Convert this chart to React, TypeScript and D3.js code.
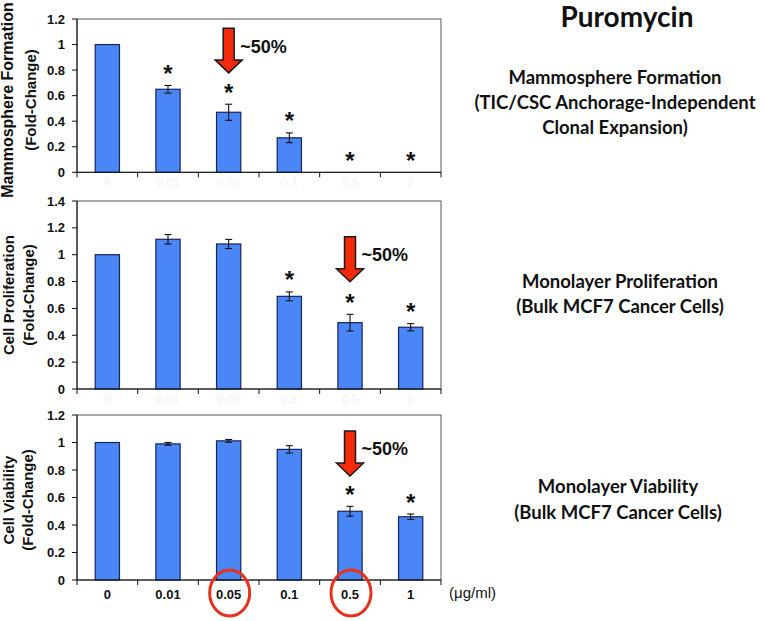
import React from "react";
import * as d3 from "d3";

const categories = ["0", "0.01", "0.05", "0.1", "0.5", "1"];

const mammoValues = [1, 0.65, 0.47, 0.27, 0, 0];
const mammoErrors = [0, 0.03, 0.063, 0.038, 0, 0];
const mammoStars = [false, true, true, true, true, true];

const prolifValues = [1.0, 1.115, 1.08, 0.69, 0.494, 0.46];
const prolifErrors = [0, 0.035, 0.034, 0.033, 0.062, 0.027];
const prolifStars = [false, false, false, true, true, true];

const viabValues = [1.0, 0.99, 1.012, 0.95, 0.5, 0.46];
const viabErrors = [0, 0.01, 0.01, 0.027, 0.036, 0.02];
const viabStars = [false, false, false, false, true, true];

const yLabels1 = ["Mammosphere Formation", "(Fold-Change)"];
const yLabels2 = ["Cell Proliferation", "(Fold-Change)"];
const yLabels3 = ["Cell Viability", "(Fold-Change)"];

const titles1 = ["Mammosphere Formation", "(TIC/CSC Anchorage-Independent", "Clonal Expansion)"];
const titles2 = ["Monolayer Proliferation", "(Bulk MCF7 Cancer Cells)"];
const titles3 = ["Monolayer Viability", "(Bulk MCF7 Cancer Cells)"];

const circledCats = ["0.05", "0.5"];
const unitLabel = "(\u03bcg/ml)";
const mainTitle = "Puromycin";
const arrowText = "~50%";

// layout
const LEFT = 77;
const RIGHT = 441;
const AXIS_FONT = "'Liberation Sans', Arial, sans-serif";
const TITLE_FONT = "Lato, 'Open Sans', sans-serif";
const BAR_FILL = "#4a86f5";
const BAR_STROKE = "#15265a";

const panels = [
  {
    top: 19, bottom: 172.3, ymax: 1.2,
    values: mammoValues, errors: mammoErrors, stars: mammoStars,
    arrow: { cat: "0.05", top: 1.127, tip: 0.778 },
    ylab: yLabels1, ylabX: [7, 30], ylabY: 100, ylabSize: [16, 15],
    titles: titles1, titleX: 615, titleY: [84, 109, 134],
    ghost: true, showX: false,
  },
  {
    top: 201, bottom: 389, ymax: 1.4,
    values: prolifValues, errors: prolifErrors, stars: prolifStars,
    arrow: { cat: "0.5", top: 1.134, tip: 0.799 },
    ylab: yLabels2, ylabX: [8, 28], ylabY: 295, ylabSize: [15, 15],
    titles: titles2, titleX: 620, titleY: [288, 313],
    ghost: true, showX: false,
  },
  {
    top: 415, bottom: 580, ymax: 1.2,
    values: viabValues, errors: viabErrors, stars: viabStars,
    arrow: { cat: "0.5", top: 1.083, tip: 0.756 },
    ylab: yLabels3, ylabX: [8, 27], ylabY: 500, ylabSize: [15, 15],
    titles: titles3, titleX: 618, titleY: [493, 519],
    ghost: false, showX: true,
  },
];

const fmt = (d: number) => String(+d.toFixed(1));

function Panel({ p }: { p: any }) {
  const x = d3.scaleBand<string>().domain(categories).range([LEFT, RIGHT]).paddingInner(0.6).paddingOuter(0.3);
  const y = d3.scaleLinear().domain([0, p.ymax]).range([p.bottom, p.top]);
  const step = x.step();
  const bw = x.bandwidth();
  const yticks = d3.range(0, p.ymax + 1e-9, 0.2);
  const boundaries = d3.range(0, categories.length + 1).map((i) => LEFT + i * step);
  const cx = (c: string) => (x(c) as number) + bw / 2;

  const ac = cx(p.arrow.cat);
  const aTop = y(p.arrow.top);
  const aTip = y(p.arrow.tip);
  const headH = 13;
  const shaftW = 5.5;
  const headW = 13.5;
  const arrowPath = d3.path();
  arrowPath.moveTo(ac - shaftW, aTop);
  arrowPath.lineTo(ac + shaftW, aTop);
  arrowPath.lineTo(ac + shaftW, aTip - headH);
  arrowPath.lineTo(ac + headW, aTip - headH);
  arrowPath.lineTo(ac, aTip);
  arrowPath.lineTo(ac - headW, aTip - headH);
  arrowPath.lineTo(ac - shaftW, aTip - headH);
  arrowPath.closePath();

  return (
    <g>
      <rect x={LEFT} y={p.top} width={RIGHT - LEFT} height={p.bottom - p.top} fill="none" stroke="#555" strokeWidth={1} />
      {categories.map((c, i) =>
        p.values[i] > 0 ? (
          <rect key={"b" + c} x={x(c)} y={y(p.values[i])} width={bw} height={p.bottom - y(p.values[i])}
            fill={BAR_FILL} stroke={BAR_STROKE} strokeWidth={1.2} />
        ) : null
      )}
      {categories.map((c, i) =>
        p.errors[i] > 0 ? (
          <g key={"e" + c} stroke="#111" strokeWidth={1.1}>
            <line x1={cx(c)} x2={cx(c)} y1={y(p.values[i] + p.errors[i])} y2={y(p.values[i] - p.errors[i])} />
            <line x1={cx(c) - 3.5} x2={cx(c) + 3.5} y1={y(p.values[i] + p.errors[i])} y2={y(p.values[i] + p.errors[i])} />
            <line x1={cx(c) - 3.5} x2={cx(c) + 3.5} y1={y(p.values[i] - p.errors[i])} y2={y(p.values[i] - p.errors[i])} />
          </g>
        ) : null
      )}
      {categories.map((c, i) =>
        p.stars[i] ? (
          <text key={"s" + c} x={cx(c)} y={y(p.values[i] + p.errors[i]) - 17 + 13.5} textAnchor="middle"
            fontFamily={AXIS_FONT} fontWeight="bold" fontSize={24} fill="#111">*</text>
        ) : null
      )}
      <line x1={LEFT} x2={LEFT} y1={p.top} y2={p.bottom} stroke="#111" strokeWidth={1} />
      <line x1={LEFT} x2={RIGHT} y1={p.bottom} y2={p.bottom} stroke="#111" strokeWidth={1} />
      {yticks.map((t) => (
        <g key={"yt" + t}>
          <line x1={LEFT - 5} x2={LEFT} y1={y(t)} y2={y(t)} stroke="#111" />
          <text x={LEFT - 12} y={y(t)} dy="0.35em" textAnchor="end" fontFamily={AXIS_FONT} fontWeight="bold" fontSize={13} fill="#111">{fmt(t)}</text>
        </g>
      ))}
      {boundaries.map((bx, i) => (
        <line key={"xt" + i} x1={bx} x2={bx} y1={p.bottom} y2={p.bottom + 5} stroke="#111" />
      ))}
      {p.showX &&
        categories.map((c) => (
          <text key={"xl" + c} x={cx(c)} y={p.bottom + 18.5} textAnchor="middle" fontFamily={AXIS_FONT} fontWeight="bold" fontSize={13} fill="#111">{c}</text>
        ))}
      {p.ghost &&
        categories.map((c) => (
          <text key={"gl" + c} x={cx(c)} y={p.bottom + 15} textAnchor="middle" fontFamily={AXIS_FONT} fontWeight="bold" fontSize={12} fill="#f5f5f5">{c}</text>
        ))}
      <path d={arrowPath.toString()} fill="#f42a0c" stroke="#1a1a1a" strokeWidth={1.5} strokeLinejoin="miter" />
      <text x={ac + 11.5} y={aTop + 18} dy="0.35em" fontFamily={AXIS_FONT} fontWeight="bold" fontSize={18} fill="#111">{arrowText}</text>
      {p.ylab.map((l: string, i: number) => (
        <text key={"yl" + i} transform={`translate(${p.ylabX[i]},${p.ylabY}) rotate(-90)`} textAnchor="middle" dominantBaseline="central"
          fontFamily={AXIS_FONT} fontWeight="bold" fontSize={p.ylabSize[i]} fill="#111">{l}</text>
      ))}
      {p.titles.map((t: string, i: number) => (
        <text key={"tt" + i} x={p.titleX} y={p.titleY[i]} textAnchor="middle" fontFamily={TITLE_FONT} fontWeight="bold" fontSize={18.5} fill="#111">{t}</text>
      ))}
      {p.showX &&
        circledCats.map((c) => (
          <ellipse key={"c" + c} cx={cx(c) + 1} cy={p.bottom + 13} rx={20} ry={23} fill="none" stroke="#e6321c" strokeWidth={3} />
        ))}
      {p.showX && (
        <text x={RIGHT + 8} y={p.bottom + 18} fontFamily={AXIS_FONT} fontSize={15} fill="#111">{unitLabel}</text>
      )}
    </g>
  );
}

export default function App() {
  return (
    <svg width={764} height={621} style={{ position: "absolute", left: 0, top: 0, background: "#fff" }}>
      <rect x={0} y={0} width={764} height={621} fill="#fff" />
      {panels.map((p, i) => (
        <Panel key={i} p={p} />
      ))}
      <text x={627} y={27} textAnchor="middle" fontFamily={TITLE_FONT} fontWeight="bold" fontSize={28} fill="#111">{mainTitle}</text>
    </svg>
  );
}
